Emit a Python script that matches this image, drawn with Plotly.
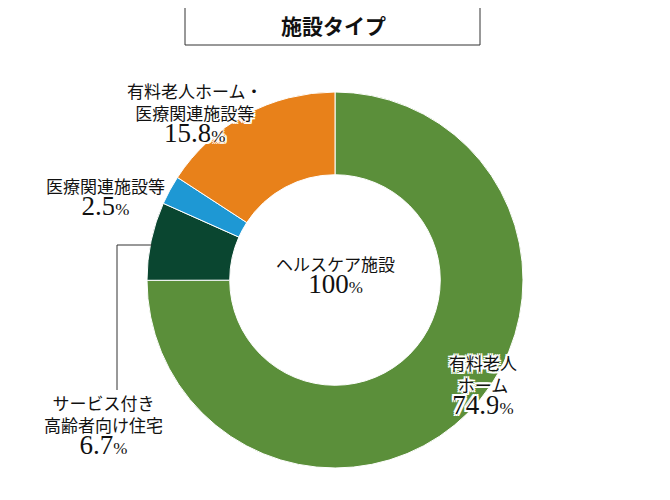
import plotly.graph_objects as go

labels = ['有料老人ホーム', 'サービス付き高齢者向け住宅', '医療関連施設等', '有料老人ホーム・医療関連施設等']
values = [74.9, 6.7, 2.5, 15.8]
colors = ['#5b8f3a', '#0a4630', '#1e98d4', '#e8811a']

W, H = 670, 500
OX, OY = 8, 8  # page body margin
cx, cy, r = 335, 280, 188


def px(x):
    return (x - OX) / W


def py(y):
    return 1 - (y - OY) / H


fig = go.Figure(go.Pie(
    labels=labels, values=values, hole=0.56, sort=False,
    direction='clockwise', rotation=0,
    marker=dict(colors=colors, line=dict(color='white', width=1)),
    textinfo='none', hoverinfo='label+percent',
    domain=dict(x=[px(cx - r), px(cx + r)], y=[py(cy + r), py(cy - r)]),
))

font = 'Noto Sans CJK JP'
num = 'Liberation Sans Narrow'
sh = '-2px -2px 0 white, 2px -2px 0 white, -2px 2px 0 white, 2px 2px 0 white, 0 2px 0 white, 0 -2px 0 white, 2px 0 0 white, -2px 0 0 white'


def lab(x, y, name, pct, shadow=True):
    txt = (name + f'<br><span style="font-size:27px;font-family:{num}">' + pct +
           f'</span><span style="font-size:17px;font-family:{num}">%</span>')
    fig.add_annotation(x=px(x), y=py(y), xref='paper', yref='paper', text=txt,
                       showarrow=False, align='center', xanchor='center', yanchor='middle',
                       font=dict(family=font, size=17, color='#111', shadow=sh if shadow else 'none'))


lab(335, 275, 'ヘルスケア施設', '100', shadow=False)
lab(483, 385, '有料老人<br>ホーム', '74.9')
lab(103, 425, 'サービス付き<br>高齢者向け住宅', '6.7')
lab(105, 197, '医療関連施設等', '2.5')
lab(195, 113, '有料老人ホーム・<br>医療関連施設等', '15.8')

# leader line for 6.7%
fig.add_shape(type='path', xref='paper', yref='paper',
              path=f'M {px(152)} {py(245)} L {px(117)} {py(245)} L {px(117)} {py(390)}',
              line=dict(color='#333', width=1))

fig.add_shape(type='rect', xref='paper', yref='paper', x0=px(185), x1=px(480), y0=py(45), y1=py(5),
              line=dict(color='#333', width=1))
fig.add_annotation(x=px(333), y=py(25), xref='paper', yref='paper', showarrow=False,
                   xanchor='center', yanchor='middle',
                   text='<b>施設タイプ</b>', font=dict(family=font, size=21, color='#111'))

fig.update_layout(width=W, height=H, margin=dict(l=0, r=0, t=0, b=0), showlegend=False,
                  paper_bgcolor='white')
fig.write_html('out.html')
